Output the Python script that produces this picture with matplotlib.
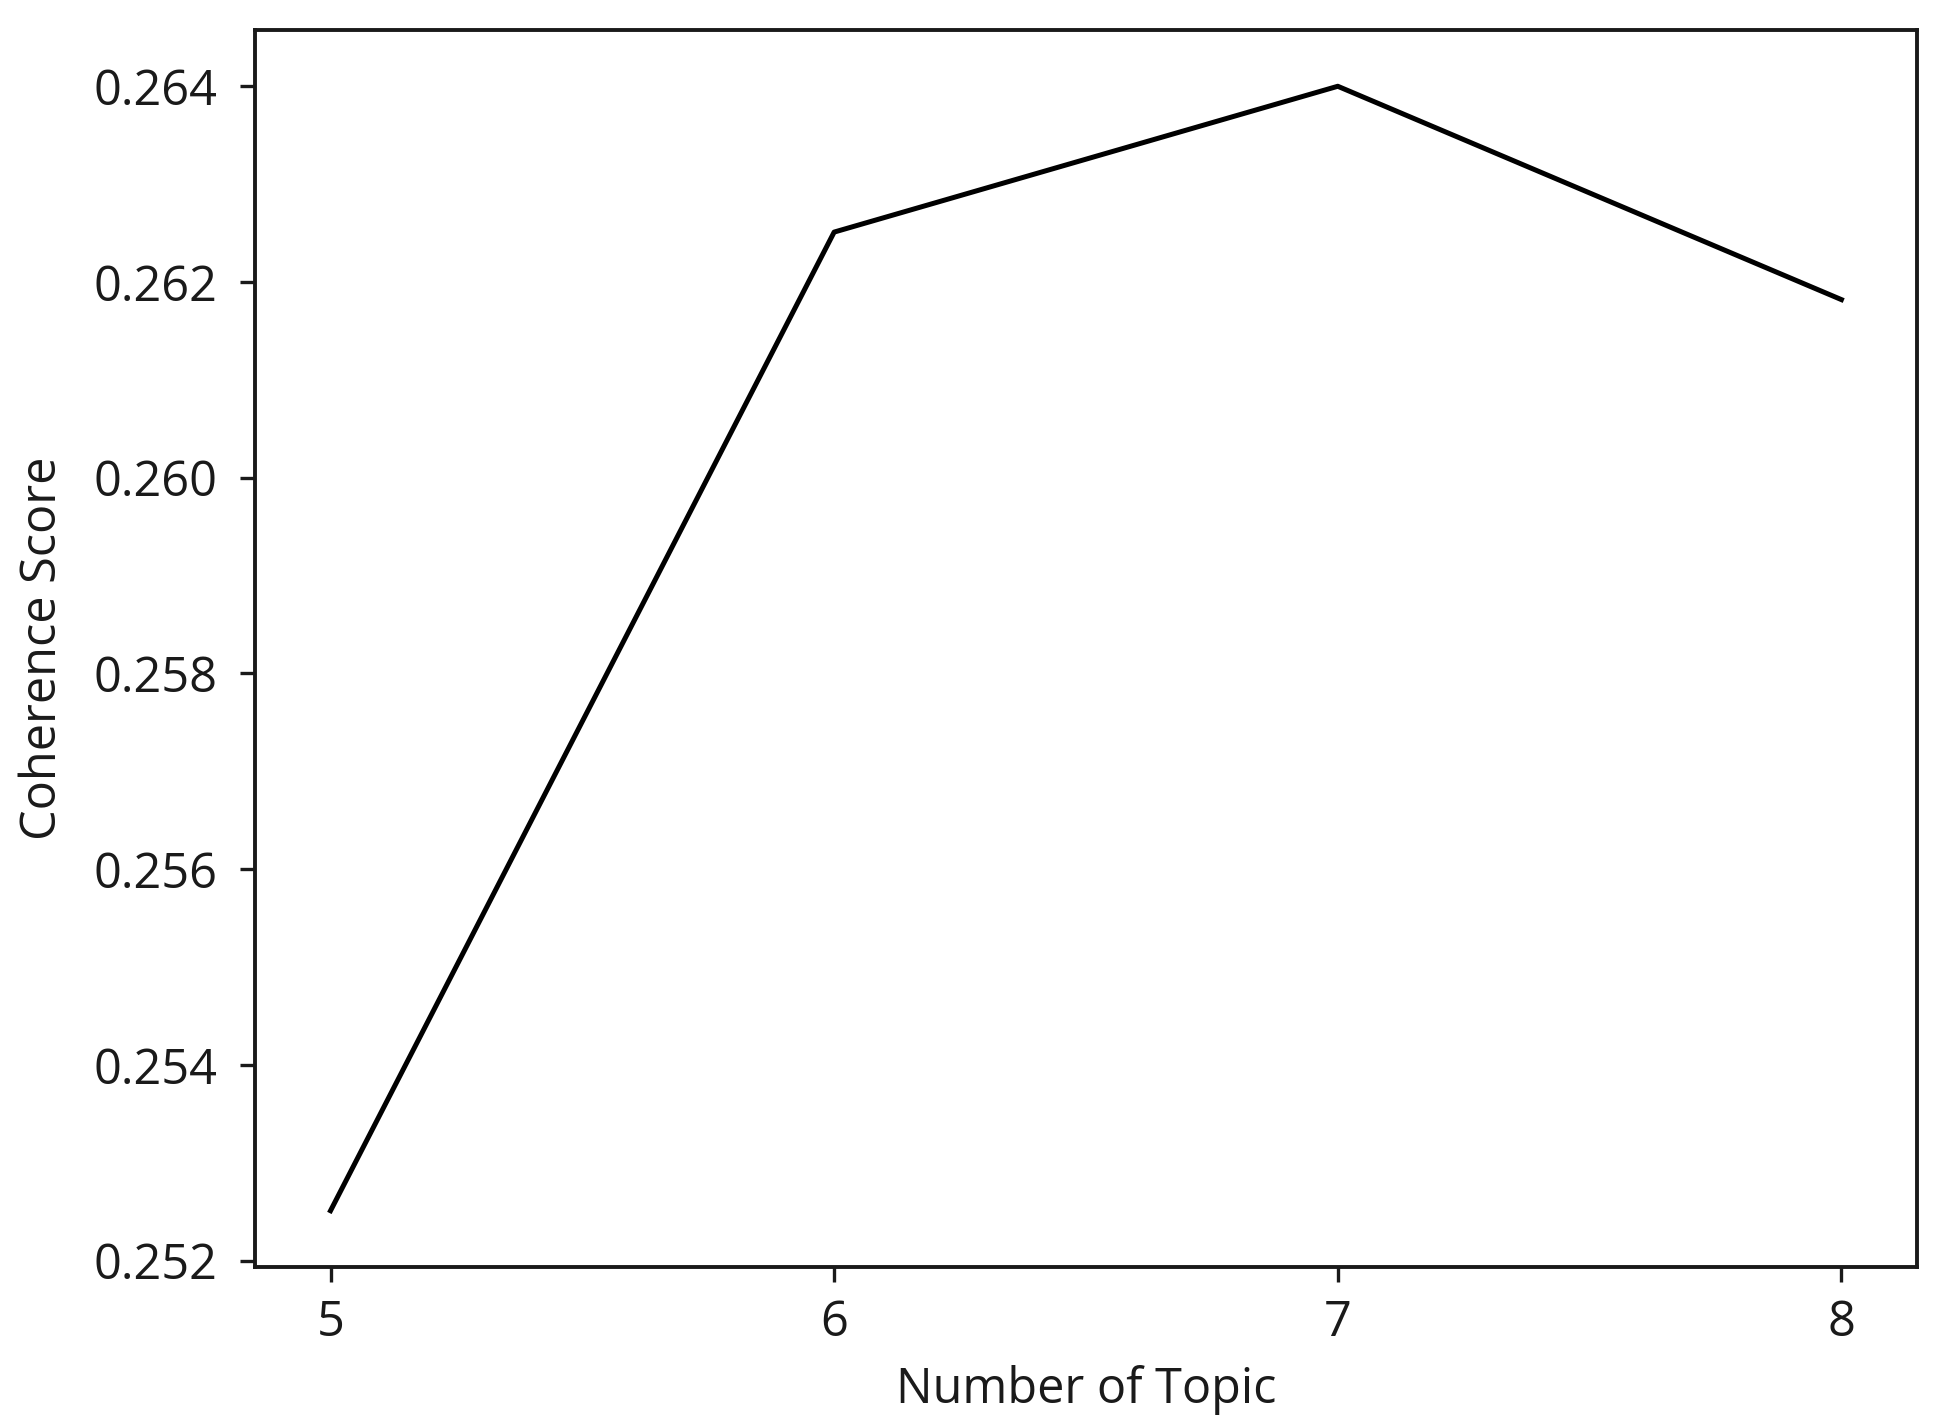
import matplotlib.pyplot as plt

plt.rcParams['font.family'] = ['Open Sans', 'DejaVu Sans']

# Data
num_topics = [5, 6, 7, 8]
coherence = [0.25251, 0.26251, 0.26400, 0.26182]
y_ticks = [0.252, 0.254, 0.256, 0.258, 0.260, 0.262, 0.264]

fig = plt.figure(figsize=(19.42, 14.24), dpi=100)
ax = fig.add_axes([0.1313, 0.1103, 0.8558, 0.8686])

ax.plot(num_topics, coherence, color='black', linewidth=3.6)

ax.set_xticks(num_topics)
ax.set_yticks(y_ticks)
ax.set_yticklabels([f"{v:.3f}" for v in y_ticks])
ax.tick_params(labelsize=35, length=11, width=2.4, colors='#1a1a1a')
ax.tick_params(axis='y', pad=16)
ax.tick_params(axis='x', pad=12)
for s in ax.spines.values():
    s.set_linewidth(2.8)
    s.set_color('#1a1a1a')

ax.set_xlabel("Number of Topic", fontsize=35, labelpad=12, color='#1a1a1a')
ax.set_ylabel("Coherence Score", fontsize=35, labelpad=18, color='#1a1a1a')

fig.savefig("out.png", dpi=100)
